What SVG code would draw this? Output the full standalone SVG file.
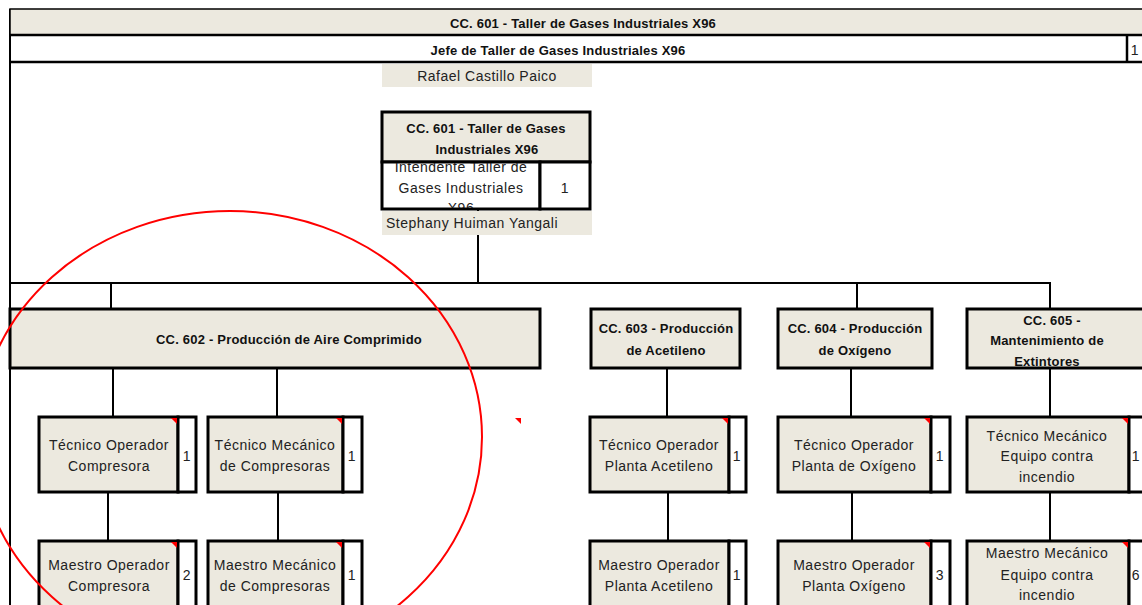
<svg xmlns="http://www.w3.org/2000/svg" width="1142" height="605" viewBox="0 0 1142 605">
  <style>
    .fill { fill: #ECE9DF; }
    .box { fill: #ECE9DF; stroke: #000; stroke-width: 3; }
    .cnt { fill: #fff; stroke: #000; stroke-width: 3; }
    .name { fill: #ECE9DF; }
    .t { font-family: "Liberation Sans", Arial, sans-serif; font-size: 14px; letter-spacing: 0.5px; fill: #222; text-anchor: middle; }
    .b { font-family: "Liberation Sans", Arial, sans-serif; font-size: 13px; letter-spacing: 0.2px; font-weight: bold; fill: #111; text-anchor: middle; }
    .flag { fill: #ff0000; }
    .conn line { stroke: #000; stroke-width: 2; }
  </style>
  <defs>
    <clipPath id="clipIntendente">
      <rect x="383" y="163" width="156" height="45"/>
    </clipPath>
    <clipPath id="clip605">
      <rect x="968" y="310" width="174" height="57"/>
    </clipPath>
  </defs>

  <rect width="1142" height="605" fill="#fff"/>

  <!-- page frame and title rows -->
  <g id="frame">
    <line x1="10" y1="9" x2="10" y2="605" stroke="#000" stroke-width="2"/>
    <rect x="10" y="9" width="1134" height="26" class="fill" stroke="#000" stroke-width="1.5"/>
    <line x1="10" y1="35" x2="1142" y2="35" stroke="#000" stroke-width="2.5"/>
    <line x1="10" y1="62" x2="1142" y2="62" stroke="#000" stroke-width="2.5"/>
    <line x1="1127" y1="35" x2="1127" y2="62" stroke="#000" stroke-width="2.5"/>
    <text class="b" x="583" y="28">CC. 601 - Taller de Gases Industriales X96</text>
    <text class="b" x="558" y="55">Jefe de Taller de Gases Industriales X96</text>
    <text class="t" x="1135" y="55">1</text>
  </g>

  <!-- connectors -->
  <g id="connectors" class="conn">
    <line x1="478" y1="210" x2="478" y2="283"/>
    <line x1="10" y1="283" x2="1051" y2="283"/>
    <line x1="111" y1="283" x2="111" y2="309"/>
    <line x1="857" y1="283" x2="857" y2="309"/>
    <line x1="1050" y1="283" x2="1050" y2="309"/>
    <line x1="113" y1="368" x2="113" y2="417"/>
    <line x1="277" y1="368" x2="277" y2="417"/>
    <line x1="667" y1="368" x2="667" y2="417"/>
    <line x1="851" y1="368" x2="851" y2="417"/>
    <line x1="1050" y1="368" x2="1050" y2="417"/>
    <line x1="108" y1="492" x2="108" y2="541"/>
    <line x1="278" y1="492" x2="278" y2="541"/>
    <line x1="668" y1="492" x2="668" y2="541"/>
    <line x1="852" y1="492" x2="852" y2="541"/>
    <line x1="1050" y1="492" x2="1050" y2="541"/>
  </g>

  <!-- CC. 601 head node -->
  <g id="node-cc601">
    <rect x="382" y="64" width="210" height="23" class="name"/>
    <text class="t" x="487" y="81">Rafael Castillo Paico</text>
    <rect x="382" y="112" width="208" height="50" class="box"/>
    <rect x="382" y="162" width="158" height="47" class="cnt"/>
    <rect x="540" y="162" width="50" height="47" class="cnt"/>
    <text class="b" x="486" y="133">CC. 601 - Taller de Gases</text>
    <text class="b" x="487" y="154">Industriales X96</text>
    <g clip-path="url(#clipIntendente)">
      <text class="t" x="461" y="172">Intendente  Taller de</text>
      <text class="t" x="461" y="193">Gases Industriales</text>
      <text class="t" x="461" y="213">X96</text>
    </g>
    <text class="t" x="565" y="193">1</text>
    <rect x="382" y="211" width="210" height="24" class="name"/>
    <text class="t" x="386" y="228" style="text-anchor:start">Stephany Huiman Yangali</text>
  </g>

  <!-- second level: cost centres -->
  <g id="node-cc602">
    <rect x="10" y="309" width="530" height="59" class="box"/>
    <text class="b" x="289" y="344">CC. 602 - Producción de Aire Comprimido</text>
  </g>
  <g id="node-cc603">
    <rect x="591" y="309" width="149" height="59" class="box"/>
    <text class="b" x="666" y="333">CC. 603 - Producción</text>
    <text class="b" x="666" y="355">de Acetileno</text>
  </g>
  <g id="node-cc604">
    <rect x="778" y="309" width="154" height="59" class="box"/>
    <text class="b" x="855" y="333">CC. 604 - Producción</text>
    <text class="b" x="855" y="355">de Oxígeno</text>
  </g>
  <g id="node-cc605">
    <rect x="967" y="309" width="180" height="59" class="box"/>
    <g clip-path="url(#clip605)">
      <text class="b" x="1052" y="325">CC. 605 -</text>
      <text class="b" x="1047" y="345">Mantenimiento de</text>
      <text class="b" x="1047" y="366">Extintores</text>
    </g>
  </g>

  <!-- third level: técnicos -->
  <g id="node-tec-op-compresora">
    <rect x="39" y="417" width="139" height="75" class="box"/>
    <rect x="178" y="417" width="18" height="75" class="cnt"/>
    <polygon points="171,418 177,418 177,424" class="flag"/>
    <text class="t" x="109" y="450">Técnico Operador</text>
    <text class="t" x="109" y="471">Compresora</text>
    <text class="t" x="187" y="461">1</text>
  </g>
  <g id="node-tec-mec-compresoras">
    <rect x="208" y="417" width="135" height="75" class="box"/>
    <rect x="343" y="417" width="19" height="75" class="cnt"/>
    <polygon points="336,418 342,418 342,424" class="flag"/>
    <text class="t" x="275" y="450">Técnico Mecánico</text>
    <text class="t" x="275" y="471">de Compresoras</text>
    <text class="t" x="352" y="461">1</text>
  </g>
  <g id="node-tec-op-acetileno">
    <rect x="590" y="417" width="139" height="75" class="box"/>
    <rect x="729" y="417" width="17" height="75" class="cnt"/>
    <polygon points="722,418 728,418 728,424" class="flag"/>
    <text class="t" x="659" y="450">Técnico Operador</text>
    <text class="t" x="659" y="471">Planta Acetileno</text>
    <text class="t" x="737" y="461">1</text>
  </g>
  <g id="node-tec-op-oxigeno">
    <rect x="778" y="417" width="153" height="75" class="box"/>
    <rect x="931" y="417" width="19" height="75" class="cnt"/>
    <polygon points="924,418 930,418 930,424" class="flag"/>
    <text class="t" x="854" y="450">Técnico Operador</text>
    <text class="t" x="854" y="471">Planta de Oxígeno</text>
    <text class="t" x="940" y="461">1</text>
  </g>
  <g id="node-tec-mec-incendio">
    <rect x="967" y="417" width="162" height="75" class="box"/>
    <rect x="1129" y="417" width="20" height="75" class="cnt"/>
    <polygon points="1122,418 1128,418 1128,424" class="flag"/>
    <text class="t" x="1047" y="441">Técnico Mecánico</text>
    <text class="t" x="1047" y="461">Equipo contra</text>
    <text class="t" x="1047" y="482">incendio</text>
    <text class="t" x="1136" y="461">1</text>
  </g>

  <!-- fourth level: maestros -->
  <g id="node-mae-op-compresora">
    <rect x="39" y="541" width="139" height="70" class="box"/>
    <rect x="178" y="541" width="18" height="70" class="cnt"/>
    <polygon points="171,542 177,542 177,548" class="flag"/>
    <text class="t" x="109" y="570">Maestro Operador</text>
    <text class="t" x="109" y="591">Compresora</text>
    <text class="t" x="187" y="580">2</text>
  </g>
  <g id="node-mae-mec-compresoras">
    <rect x="208" y="541" width="135" height="70" class="box"/>
    <rect x="343" y="541" width="19" height="70" class="cnt"/>
    <polygon points="336,542 342,542 342,548" class="flag"/>
    <text class="t" x="275" y="570">Maestro Mecánico</text>
    <text class="t" x="275" y="591">de Compresoras</text>
    <text class="t" x="352" y="580">1</text>
  </g>
  <g id="node-mae-op-acetileno">
    <rect x="590" y="541" width="139" height="70" class="box"/>
    <rect x="729" y="541" width="17" height="70" class="cnt"/>
    <text class="t" x="659" y="570">Maestro Operador</text>
    <text class="t" x="659" y="591">Planta Acetileno</text>
    <text class="t" x="737" y="580">1</text>
  </g>
  <g id="node-mae-op-oxigeno">
    <rect x="778" y="541" width="153" height="70" class="box"/>
    <rect x="931" y="541" width="19" height="70" class="cnt"/>
    <polygon points="924,542 930,542 930,548" class="flag"/>
    <text class="t" x="854" y="570">Maestro Operador</text>
    <text class="t" x="854" y="591">Planta Oxígeno</text>
    <text class="t" x="940" y="580">3</text>
  </g>
  <g id="node-mae-mec-incendio">
    <rect x="967" y="541" width="162" height="70" class="box"/>
    <rect x="1129" y="541" width="20" height="70" class="cnt"/>
    <polygon points="1122,542 1128,542 1128,548" class="flag"/>
    <text class="t" x="1047" y="558">Maestro Mecánico</text>
    <text class="t" x="1047" y="580">Equipo contra</text>
    <text class="t" x="1047" y="600">incendio</text>
    <text class="t" x="1136" y="580">6</text>
  </g>

  <!-- red highlight around the CC. 602 branch -->
  <ellipse cx="230" cy="437" rx="252" ry="226" fill="none" stroke="#ff0000" stroke-width="2"/>
  <polygon points="515,418 521,418 521,424" class="flag"/>
</svg>
